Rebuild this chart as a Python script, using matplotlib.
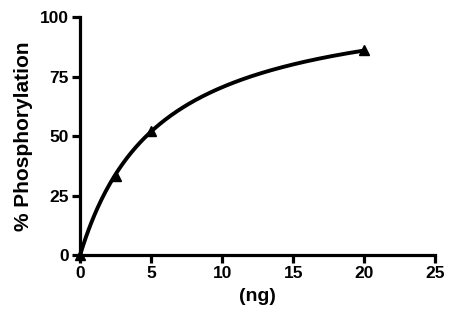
import numpy as np
import matplotlib.pyplot as plt

plt.rcParams['font.family'] = ['Liberation Sans', 'DejaVu Sans']
plt.rcParams['font.weight'] = 'bold'

# measured points
dose = [0, 2.5, 5, 20]
phos = [0, 33, 52, 86]

# one-site hyperbola fit
bmax = 110.0
kd = 5.6

fig = plt.figure(figsize=(4.5, 3.22), dpi=100)
ax = fig.add_axes([0.178, 0.208, 0.789, 0.739])

xf = np.linspace(0, max(dose), 200)
yf = bmax * xf / (kd + xf)
ax.plot(xf, yf, color='black', lw=2.8, solid_capstyle='butt')
ax.plot(dose, phos, '^', color='black', ms=7, clip_on=False, zorder=5)

ax.set_xlim(0, 25)
ax.set_ylim(0, 100)
ax.set_xticks([0, 5, 10, 15, 20, 25])
ax.set_yticks([0, 25, 50, 75, 100])
for s in ['top', 'right']:
    ax.spines[s].set_visible(False)
for s in ['left', 'bottom']:
    ax.spines[s].set_linewidth(2.3)
ax.tick_params(direction='out', length=6, width=2.3, labelsize=12.5, pad=2)
for lab in ax.get_xticklabels() + ax.get_yticklabels():
    lab.set_fontweight('bold')

ax.set_xlabel('(ng)', fontsize=14, fontweight='bold', labelpad=5)
ax.set_ylabel('% Phosphorylation', fontsize=15, fontweight='bold', labelpad=5)

plt.savefig('out.png', dpi=100)
